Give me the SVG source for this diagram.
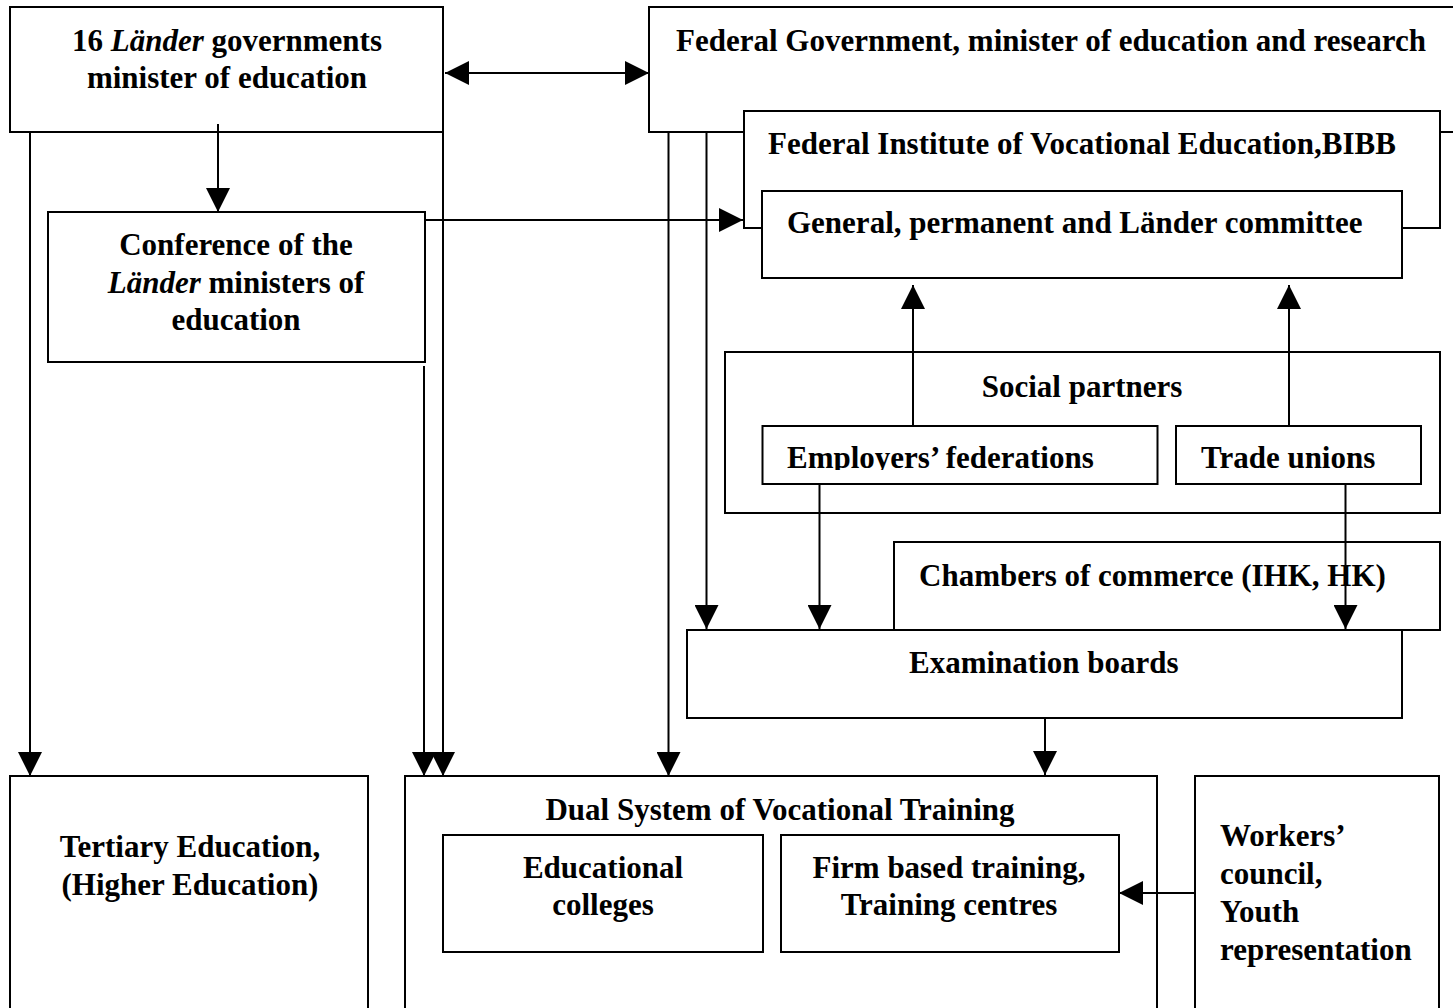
<svg xmlns="http://www.w3.org/2000/svg" width="1453" height="1008" viewBox="0 0 1453 1008">
<style>
  .box { fill: #ffffff; stroke: #000000; stroke-width: 2; }
  .t { font-family: "Liberation Serif", "Times New Roman", serif; font-weight: bold; font-size: 31px; fill: #000000; }
  .c { text-anchor: middle; }
  .i { font-style: italic; }
  .conn { fill: none; stroke: #000000; stroke-width: 2; }
</style>
<defs>
  <marker id="ah" viewBox="0 0 24 24" markerWidth="24" markerHeight="24" refX="24" refY="12" orient="auto" markerUnits="userSpaceOnUse">
    <path d="M0,0 L24,12 L0,24 Z" fill="#000000"/>
  </marker>
  <marker id="ahs" viewBox="0 0 24 24" markerWidth="24" markerHeight="24" refX="24" refY="12" orient="auto-start-reverse" markerUnits="userSpaceOnUse">
    <path d="M0,0 L24,12 L0,24 Z" fill="#000000"/>
  </marker>
  <clipPath id="empClip"><rect x="762" y="420" width="395" height="50"/></clipPath>
</defs>
<rect x="0" y="0" width="1453" height="1008" fill="#ffffff"/>

<g id="laender">
  <rect class="box" x="10" y="7" width="433" height="125"/>
  <text class="t c" x="227" y="51">16 <tspan class="i">Länder</tspan> governments</text>
  <text class="t c" x="227" y="88">minister of education</text>
</g>

<g id="federal">
  <rect class="box" x="649" y="7" width="900" height="125"/>
  <text class="t" x="676" y="51">Federal Government, minister of education and research</text>
</g>

<g id="bibb">
  <rect class="box" x="744" y="111" width="696" height="117"/>
  <text class="t" x="768" y="154">Federal Institute of Vocational Education,BIBB</text>
</g>

<g id="committee">
  <rect class="box" x="762" y="191" width="640" height="87"/>
  <text class="t" x="787" y="233">General, permanent and Länder committee</text>
</g>

<g id="conference">
  <rect class="box" x="48" y="212" width="377" height="150"/>
  <text class="t c" x="236" y="255">Conference of the</text>
  <text class="t c" x="236" y="292.5"><tspan class="i">Länder</tspan> ministers of</text>
  <text class="t c" x="236" y="330">education</text>
</g>

<g id="social">
  <rect class="box" x="725" y="352" width="715" height="161"/>
  <text class="t c" x="1082" y="397">Social partners</text>
</g>

<g id="employers">
  <rect class="box" x="762.5" y="426" width="395" height="58"/>
  <text class="t" x="787" y="468" clip-path="url(#empClip)">Employers’ federations</text>
</g>

<g id="unions">
  <rect class="box" x="1176" y="426" width="245" height="58"/>
  <text class="t" x="1201" y="468">Trade unions</text>
</g>

<g id="chambers">
  <rect class="box" x="894" y="542" width="546" height="88"/>
  <text class="t" x="919" y="586">Chambers of commerce (IHK, HK)</text>
</g>

<g id="exam">
  <rect class="box" x="687" y="630" width="715" height="88"/>
  <text class="t" x="909" y="673">Examination boards</text>
</g>

<g id="tertiary">
  <rect class="box" x="10" y="776" width="358" height="260"/>
  <text class="t c" x="190" y="857">Tertiary Education,</text>
  <text class="t c" x="190" y="895">(Higher Education)</text>
</g>

<g id="dual">
  <rect class="box" x="405" y="776" width="752" height="260"/>
  <text class="t c" x="780" y="820">Dual System of Vocational Training</text>
</g>

<g id="colleges">
  <rect class="box" x="443" y="835" width="320" height="117"/>
  <text class="t c" x="603" y="878">Educational</text>
  <text class="t c" x="603" y="915">colleges</text>
</g>

<g id="firm">
  <rect class="box" x="781" y="835" width="338" height="117"/>
  <text class="t c" x="949" y="878">Firm based training,</text>
  <text class="t c" x="949" y="915">Training centres</text>
</g>

<g id="workers">
  <rect class="box" x="1195" y="776" width="244" height="260"/>
  <text class="t" x="1220" y="846">Workers’</text>
  <text class="t" x="1220" y="884">council,</text>
  <text class="t" x="1220" y="922">Youth</text>
  <text class="t" x="1220" y="960">representation</text>
</g>

<g id="connectors">
  <line class="conn" x1="445" y1="73" x2="649" y2="73" marker-start="url(#ahs)" marker-end="url(#ah)"/>
  <line class="conn" x1="218" y1="124" x2="218" y2="212" marker-end="url(#ah)"/>
  <line class="conn" x1="425" y1="220" x2="743" y2="220" marker-end="url(#ah)"/>
  <line class="conn" x1="30" y1="132" x2="30" y2="776" marker-end="url(#ah)"/>
  <line class="conn" x1="424" y1="366" x2="424" y2="776" marker-end="url(#ah)"/>
  <line class="conn" x1="443" y1="132" x2="443" y2="776" marker-end="url(#ah)"/>
  <line class="conn" x1="668.5" y1="132" x2="668.5" y2="776" marker-end="url(#ah)"/>
  <line class="conn" x1="706.5" y1="132" x2="706.5" y2="629" marker-end="url(#ah)"/>
  <line class="conn" x1="913" y1="426" x2="913" y2="285" marker-end="url(#ah)"/>
  <line class="conn" x1="1289" y1="426" x2="1289" y2="285" marker-end="url(#ah)"/>
  <line class="conn" x1="819.5" y1="484" x2="819.5" y2="629" marker-end="url(#ah)"/>
  <line class="conn" x1="1345.5" y1="484" x2="1345.5" y2="629" marker-end="url(#ah)"/>
  <line class="conn" x1="1045" y1="718" x2="1045" y2="775" marker-end="url(#ah)"/>
  <line class="conn" x1="1195" y1="893" x2="1119" y2="893" marker-end="url(#ah)"/>
</g>
</svg>
